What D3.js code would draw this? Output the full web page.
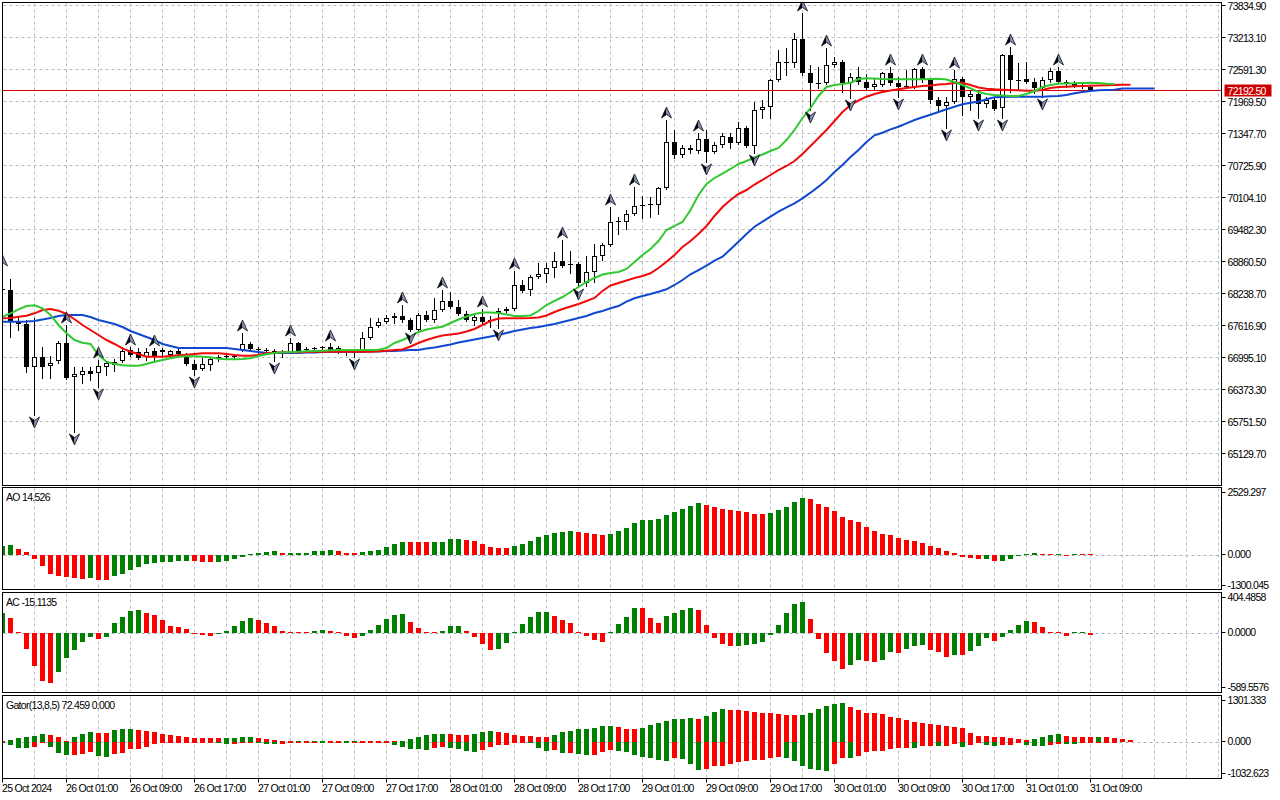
<!DOCTYPE html>
<html><head><meta charset="utf-8">
<script src="https://cdn.jsdelivr.net/npm/d3@7"></script>
<style>
html,body{margin:0;padding:0;background:#fff;}
svg{display:block;}
text{font-family:"Liberation Sans",Arial,sans-serif;font-size:10.5px;letter-spacing:-0.7px;fill:#000;}
</style></head><body>
<svg id="c" width="1280" height="800"></svg>
<script>
// ---------- DATA (BTCUSD H1) ----------
const timeLabels = ["25 Oct 2024","26 Oct 01:00","26 Oct 09:00","26 Oct 17:00","27 Oct 01:00","27 Oct 09:00","27 Oct 17:00","28 Oct 01:00","28 Oct 09:00","28 Oct 17:00","29 Oct 01:00","29 Oct 09:00","29 Oct 17:00","30 Oct 01:00","30 Oct 09:00","30 Oct 17:00","31 Oct 01:00","31 Oct 09:00"];
const timeLabelBars = [0,8,16,24,32,40,48,56,64,72,80,88,96,104,112,120,128,136];
const priceTicks = [73834.90,73213.10,72591.30,71969.50,71347.70,70725.90,70104.10,69482.30,68860.50,68238.70,67616.90,66995.10,66373.30,65751.50,65129.70];

const open = [
68320,68300,67678,67639,66803,66998,66823,66920,67270,66609,
66648,66726,66687,66803,66842,66920,67134,67095,66998,67115,
67095,67037,67115,66998,66862,66765,66842,66978,66998,67017,
67134,67251,67153,67134,67115,67095,67095,67270,67134,67153,
67173,67192,67173,67095,67095,67115,67367,67601,67678,67756,
67795,67717,67523,67814,67717,67912,68087,67970,67834,67698,
67776,67698,67853,67892,67931,68398,68300,68553,68611,68728,
68864,68786,68806,68436,68650,68961,69175,69622,69622,69778,
69933,69953,69953,70283,71177,70925,71061,71003,71236,70983,
71119,71275,71158,71450,71100,71800,71858,72383,72713,72713,
73180,72519,72324,72324,72674,72733,72324,72441,72344,72247,
72286,72519,72324,72247,72247,72597,72383,71994,71877,71955,
72402,72052,72111,71916,71994,71839,72869,72383,72402,72344,
72227,72383,72558,72344,72324,72266,72247];
const high = [
68728,68514,67795,67717,67756,67192,67017,67309,67620,66803,
66803,66803,66940,66920,66959,67192,67192,67173,67173,67173,
67173,67134,67153,67076,66940,66978,66998,67037,67076,67056,
67464,67290,67192,67173,67153,67134,67367,67290,67192,67192,
67212,67270,67212,67134,67115,67484,67756,67756,67814,67853,
68009,67756,67853,67892,68145,68300,68262,68106,67892,67853,
67931,67795,67951,67970,68670,68495,68592,68825,68825,69039,
69273,69059,68845,68961,69195,69214,69914,69720,69856,70303,
70128,70108,70303,71605,71411,71119,71119,71352,71411,71177,
71352,71352,71566,71489,71955,71994,72402,72966,73005,73296,
73685,72674,72635,73005,72830,72772,72519,72635,72499,72422,
72538,72635,72441,72577,72616,72635,72402,72052,72052,72577,
72441,72188,72130,72052,72052,72888,73024,72713,72733,72422,
72441,72616,72635,72383,72363,72344,72266];
const low = [
68184,67387,67523,66706,65870,66590,66590,66881,66570,65540,
66492,66551,66415,66648,66726,66901,67017,66959,66940,66940,
66998,66998,67017,66842,66648,66745,66745,66920,66959,66978,
67115,67134,67076,67056,66920,66998,67076,67095,67115,67115,
67115,67115,67076,67037,66998,67095,67348,67581,67659,67659,
67678,67503,67503,67698,67678,67892,67951,67814,67698,67620,
67620,67581,67562,67873,67912,68262,68203,68534,68456,68553,
68747,68631,68359,68378,68456,68884,69156,69389,69486,69758,
69700,69720,69778,70264,70866,70886,70964,70964,70789,70964,
71080,71061,71139,71080,70964,71644,71644,72363,72480,72635,
72480,71800,72227,72305,72635,72149,72033,72305,72188,72208,
72266,72286,72052,72227,72227,72344,71936,71800,71450,71936,
71702,71800,71644,71858,71800,71644,72149,72188,72324,72130,
72052,72344,72324,72247,72247,72227,72169];
const close = [
68300,67678,67639,66803,66998,66803,66881,67270,66590,66667,
66726,66667,66823,66881,66901,67115,67037,66978,67095,67017,
67134,67115,67056,66862,66745,66862,66959,66998,67017,66998,
67251,67153,67134,67115,67095,67056,67270,67115,67153,67173,
67183,67134,67095,67076,67076,67367,67581,67678,67756,67795,
67717,67523,67814,67717,67912,68087,67970,67834,67717,67776,
67678,67717,67892,67931,68398,68281,68553,68611,68728,68864,
68767,68806,68436,68650,68961,69175,69622,69642,69778,69933,
69953,69972,70283,71177,70925,71061,71022,71236,70983,71119,
71294,71158,71450,71100,71800,71858,72383,72733,72733,73180,
72519,72324,72305,72674,72733,72324,72441,72344,72227,72305,
72519,72324,72247,72266,72597,72383,71994,71877,71955,72402,
72052,72111,71916,71994,71819,72869,72383,72363,72344,72227,
72383,72558,72344,72324,72266,72247,72192.5];

const fractalUp = [0,8,12,16,19,30,36,41,50,55,60,64,70,76,79,83,87,100,103,111,115,119,126,132];
const fractalDown = [4,9,12,24,34,44,51,62,72,88,94,101,106,112,118,122,125,130];

// Alligator (13,8,5 / shift 8,5,3), values as drawn at each bar position
const jaw = [
67684,67684,67684,67688,67698,67727,67756,67795,67814,67814,
67814,67776,67717,67678,67639,67581,67503,67445,67387,67328,
67251,67212,67173,67173,67173,67173,67173,67173,67173,67153,
67134,67115,67095,67076,67076,67076,67076,67076,67085,67085,
67095,67095,67095,67095,67095,67095,67105,67105,67115,67115,
67124,67134,67134,67163,67183,67212,67241,67280,67309,67338,
67367,67396,67426,67464,67503,67532,67562,67581,67610,67639,
67678,67717,67756,67795,67853,67892,67945,67989,68073,68139,
68184,68223,68267,68314,68398,68495,68606,68689,68773,68870,
68948,69092,69239,69389,69531,69628,69725,69823,69908,69986,
70083,70192,70309,70439,70594,70730,70886,71022,71177,71308,
71358,71424,71475,71541,71605,71658,71708,71761,71813,71864,
71910,71942,71961,72008,72047,72052,72058,72058,72058,72058,
72058,72066,72072,72091,72124,72150,72169,72183,72190,72195,
72218,72218,72218,72218,72218];
const teeth = [
67750,67756,67781,67801,67847,67912,67931,67898,67834,67731,
67620,67523,67426,67328,67251,67167,67101,67056,67004,67004,
67004,67017,67031,67043,67056,67070,67070,67070,67056,67037,
67024,67024,67037,67070,67081,67089,67089,67089,67095,67101,
67101,67101,67101,67101,67101,67101,67101,67109,67120,67134,
67144,67202,67270,67328,67377,67416,67435,67455,67494,67542,
67620,67698,67746,67750,67750,67750,67756,67766,67805,67873,
67931,67980,68028,68087,68145,68281,68388,68436,68485,68534,
68573,68625,68728,68851,68981,69136,69253,69389,69545,69739,
69914,70050,70167,70244,70351,70439,70536,70633,70711,70808,
70944,71100,71255,71411,71586,71761,71897,71984,72058,72111,
72150,72179,72202,72227,72247,72266,72276,72295,72305,72324,
72330,72286,72237,72214,72202,72194,72188,72183,72175,72175,
72188,72227,72247,72253,72260,72266,72272,72276,72282,72286,
72290,72292];
const lips = [
67781,67847,67925,67989,68003,67945,67814,67620,67459,67328,
67276,67251,67037,66907,66862,66837,66829,66829,66862,66907,
66940,66973,67004,67011,67011,67004,66992,66965,66953,66953,
66959,66973,67017,67050,67076,67089,67095,67101,67109,67115,
67120,67128,67134,67134,67134,67134,67134,67140,67173,67270,
67328,67396,67484,67532,67562,67587,67659,67727,67785,67834,
67863,67863,67853,67824,67795,67795,67805,67892,68009,68087,
68164,68262,68359,68456,68534,68602,68631,68650,68709,68845,
68981,69097,69253,69467,69545,69622,69856,70147,70361,70478,
70565,70653,70750,70808,70876,70934,71003,71061,71216,71411,
71644,71838,72072,72247,72286,72305,72330,72402,72416,72412,
72402,72396,72396,72396,72396,72396,72402,72408,72393,72344,
72286,72221,72150,72111,72091,72081,72072,72072,72111,72169,
72247,72286,72311,72315,72319,72324,72330,72324,72311,72305];

// Awesome Oscillator
const aoPrev = 340;
const ao = [
360,384,260,136,-124,-422,-694,-769,-818,-856,
-893,-880,-936,-942,-794,-694,-570,-459,-335,-273,
-248,-236,-205,-198,-211,-236,-242,-236,-211,-124,
-50,5,74,124,161,99,102,103,104,149,
151,186,149,102,97,112,149,223,335,446,
521,520,518,516,518,527,608,632,595,558,
446,335,300,295,372,446,558,707,781,856,
893,930,893,856,818,781,818,930,1042,1228,
1339,1345,1376,1525,1637,1786,1897,2009,1934,1860,
1786,1748,1674,1637,1562,1559,1600,1711,1860,2046,
2195,2158,1972,1860,1674,1451,1339,1265,1079,930,
818,781,670,595,558,484,372,298,149,74,
-50,-99,-136,-134,-211,-205,-136,-12,12,74,
37,35,37,-5,37,36,14.526];
const aoTicks = [2529.297, 0, -1300.045];
const aoTickText = ["2529.297","0.000","-1300.045"];

// Accelerator Oscillator
const acPrev = 150;
const ac = [
202,152,10,-159,-334,-483,-506,-394,-245,-169,
-89,-40,-60,-36,109,169,228,238,209,189,
139,79,60,40,-10,-17,-30,-7,20,79,
129,159,139,109,79,20,10,9,3,20,
30,29,3,-23,-50,-26,30,89,149,189,
199,119,50,3,2,20,70,71,20,-36,
-109,-169,-159,-96,10,99,169,218,219,179,
139,109,10,-26,-70,-89,2,99,169,258,
257,159,109,179,209,238,258,238,89,-46,
-106,-126,-124,-115,-106,-86,-17,89,209,298,
318,149,-56,-195,-285,-364,-324,-275,-280,-295,
-265,-185,-195,-156,-126,-116,-166,-185,-235,-215,
-220,-175,-126,-46,-76,-36,33,89,129,119,
60,10,3,-26,7,8,-15.1135];
const acTicks = [404.4858, 0, -589.5576];
const acTickText = ["404.4858","0.0000","-589.5576"];

// Gator Oscillator (13,8,5)
const gatorUpPrev = 60;
const gatorUp = [
47,56,112,141,169,225,197,141,20,141,
225,281,253,250,337,365,393,337,309,281,
225,197,169,141,122,112,110,108,112,116,
141,142,112,84,56,35,5,9,8,37,
47,37,10,37,47,37,36,35,34,5,
8,94,150,206,234,236,234,206,205,234,
290,318,290,262,206,178,176,150,148,206,
290,318,375,377,403,459,460,431,375,374,
403,487,543,600,656,658,684,665,768,881,
965,937,935,909,881,853,852,825,796,795,
796,853,965,1049,1106,1134,1021,937,853,852,
825,712,684,628,572,543,515,487,459,431,
403,262,178,176,150,148,122,94,66,94,
150,206,234,178,150,148,146,150,148,122,
80,72.459];
const gatorDownPrev = -20;
const gatorDown = [
-28,-84,-159,-165,-141,-19,-131,-300,-365,-356,
-328,-272,-412,-440,-328,-300,-187,-185,-131,-56,
-10,-8,-6,-4,-3,-2,-2,-10,-50,-45,
-5,-3,-30,-40,-45,-40,-5,-3,-2,-2,
-3,-2,-2,-3,-2,-2,-2,-2,-2,-94,
-150,-206,-210,-215,-178,-150,-160,-187,-243,-272,
-215,-131,-75,-74,-37,-19,-37,-159,-243,-225,
-300,-298,-328,-375,-356,-272,-215,-243,-272,-356,
-440,-442,-525,-553,-468,-497,-628,-806,-778,-693,
-690,-637,-581,-553,-525,-524,-468,-440,-468,-553,
-693,-778,-806,-834,-637,-468,-470,-412,-272,-244,
-243,-187,-159,-158,-160,-103,-102,-104,-103,-47,
-131,-75,-37,-75,-103,-75,-74,-37,-75,-103,
-104,-75,-40,-47,-48,-10,-5,-3,-2,-1];
const gatorTicks = [1301.333, 0, -1032.623];
const gatorTickText = ["1301.333","0.000","-1032.623"];

// ---------- LAYOUT ----------
const svg = d3.select("#c");
const L = 2.5, R = 1221.5;
const P = {
  main:  {top: 2.5,   bottom: 485.5},
  ao:    {top: 487.5, bottom: 589.5},
  ac:    {top: 592.5, bottom: 692.5},
  gator: {top: 695.5, bottom: 778.5}
};
const GREEN = "#008000", RED = "#ff0000";
const GRID = "#bcbcbc";

const x = d3.scaleLinear().domain([0, 1]).range([2.5, 10.5]);
const yMain = d3.scaleLinear().domain([73834.9, 65129.7]).range([5.3, 453.1]);
const yAO = d3.scaleLinear().domain([2529.297, -1300.045]).range([489, 589.5]);
const yAC = d3.scaleLinear().domain([404.4858, -589.5576]).range([593.5, 691.5]);
const yG = d3.scaleLinear().domain([1301.333, -1032.623]).range([697, 778]);

svg.append("rect").attr("width",1280).attr("height",800).attr("fill","#fff");

const defs = svg.append("defs");
Object.entries(P).forEach(([k,p]) => {
  defs.append("clipPath").attr("id","clip-"+k).append("rect")
    .attr("x", L).attr("y", p.top).attr("width", R-L).attr("height", p.bottom-p.top);
});

const gridBars = d3.range(4, 153, 4).filter(i => x(i) < R);

function vgrid(key) {
  const p = P[key];
  svg.append("g").selectAll("line").data(gridBars).join("line")
    .attr("x1", i => x(i)).attr("x2", i => x(i))
    .attr("y1", p.top+1).attr("y2", p.bottom-1)
    .attr("stroke", GRID).attr("stroke-width",1).attr("stroke-dasharray","3,3");
}

// ---------- MAIN PANEL ----------
vgrid("main");
svg.append("g").selectAll("line").data(priceTicks).join("line")
  .attr("x1", L+1).attr("x2", R-1)
  .attr("y1", d => Math.round(yMain(d))+0.5).attr("y2", d => Math.round(yMain(d))+0.5)
  .attr("stroke", GRID).attr("stroke-width",1).attr("stroke-dasharray","3,3");

const gMain = svg.append("g").attr("clip-path","url(#clip-main)");

// candles
const candles = open.map((o,i) => ({i, o, h: high[i], l: low[i], c: close[i]}));
const cg = gMain.append("g");
candles.forEach(d => {
  const cx = x(d.i);
  const yh = Math.round(yMain(d.h)), yl = Math.round(yMain(d.l));
  const yo = Math.round(yMain(d.o)), yc = Math.round(yMain(d.c));
  cg.append("line").attr("x1",cx).attr("x2",cx).attr("y1",yh).attr("y2",yl+1)
    .attr("stroke","#000").attr("stroke-width",1);
  const top = Math.min(yo,yc), bot = Math.max(yo,yc);
  if (bot - top < 2) {
    cg.append("line").attr("x1",cx-2.5).attr("x2",cx+2.5).attr("y1",top+0.5).attr("y2",top+0.5)
      .attr("stroke","#000").attr("stroke-width",1);
  } else {
    cg.append("rect").attr("x",cx-2).attr("y",top+0.5).attr("width",4).attr("height",bot-top-1)
      .attr("fill", d.c >= d.o ? "#fff" : "#000").attr("stroke","#000").attr("stroke-width",1);
  }
});

// current price line
const yPrice = Math.round(yMain(close[close.length-1]))+0.5;
gMain.append("line").attr("x1",L).attr("x2",R).attr("y1",yPrice).attr("y2",yPrice)
  .attr("stroke","#e00000").attr("stroke-width",1);

// alligator
const line = d3.line().x((d,i) => x(i)).y(d => yMain(d));
gMain.append("path").datum(jaw).attr("d",line).attr("fill","none").attr("stroke","#1048cf").attr("stroke-width",2);
gMain.append("path").datum(teeth).attr("d",line).attr("fill","none").attr("stroke","#f00a0a").attr("stroke-width",2);
gMain.append("path").datum(lips).attr("d",line).attr("fill","none").attr("stroke","#32c832").attr("stroke-width",2);

// fractals
const fg = gMain.append("g");
fractalUp.forEach(i => {
  const cx = x(i), by = yMain(high[i]) - 2;
  const g = fg.append("g").attr("transform",`translate(${cx},${by})`);
  g.append("path").attr("d","M0,-11 L-5,0 L0,-3.5 Z").attr("fill","#000");
  g.append("path").attr("d","M0,-11 L0,-3.5 L5,0 Z").attr("fill","#8090b8");
  g.append("path").attr("d","M0,-11 L-5,0 L0,-3.5 L5,0 Z").attr("fill","none").attr("stroke","#101020").attr("stroke-width",0.8);
});
fractalDown.forEach(i => {
  const cx = x(i), ty = yMain(low[i]) + 2;
  const g = fg.append("g").attr("transform",`translate(${cx},${ty})`);
  g.append("path").attr("d","M0,11 L-5,0 L0,3.5 Z").attr("fill","#000");
  g.append("path").attr("d","M0,11 L0,3.5 L5,0 Z").attr("fill","#8090b8");
  g.append("path").attr("d","M0,11 L-5,0 L0,3.5 L5,0 Z").attr("fill","none").attr("stroke","#101020").attr("stroke-width",0.8);
});

// price axis
const ax = svg.append("g");
priceTicks.forEach(t => {
  const yy = Math.round(yMain(t))+0.5;
  ax.append("line").attr("x1",R).attr("x2",R+4).attr("y1",yy).attr("y2",yy).attr("stroke","#000");
  ax.append("text").attr("x",R+6).attr("y",yy+4).text(t.toFixed(2));
});
ax.append("rect").attr("x",R+3).attr("y",yPrice-6).attr("width",47).attr("height",12).attr("fill","#cc0000");
ax.append("text").attr("x",R+6).attr("y",yPrice+4).style("fill","#fff").text(close[close.length-1].toFixed(2));

// ---------- SUB PANELS ----------
function subPanel(key, ys, ticks, tickText) {
  const p = P[key];
  vgrid(key);
  const z = Math.round(ys(0))+0.5;
  svg.append("line").attr("x1",L+1).attr("x2",R-1).attr("y1",z).attr("y2",z)
    .attr("stroke","#a8b0bc").attr("stroke-width",1).attr("stroke-dasharray","3,3");
  const offs = [3, -1, -5];
  ticks.forEach((t,k) => {
    const yy = ys(t) + offs[k];
    svg.append("line").attr("x1",R).attr("x2",R+4).attr("y1",Math.round(yy)+0.5).attr("y2",Math.round(yy)+0.5).attr("stroke","#000");
    svg.append("text").attr("x",R+6).attr("y",yy+4).text(tickText[k]);
  });
  return svg.append("g").attr("clip-path",`url(#clip-${key})`);
}

function bars(g, data, ys, prev, absCompare) {
  const y0 = Math.round(ys(0));
  data.forEach((v,i) => {
    const pv = i === 0 ? prev : data[i-1];
    const up = absCompare ? Math.abs(v) > Math.abs(pv) : v > pv;
    let y1 = Math.round(ys(v));
    if (y1 === y0) y1 = y0 + (v >= 0 ? -1 : 1);
    g.append("rect").attr("x", x(i)-2.5).attr("width",5)
      .attr("y", Math.min(y0,y1)).attr("height", Math.abs(y1-y0))
      .attr("fill", up ? GREEN : RED);
  });
}

const gAO = subPanel("ao", yAO, aoTicks, aoTickText);
bars(gAO, ao, yAO, aoPrev, false);
const gAC = subPanel("ac", yAC, acTicks, acTickText);
bars(gAC, ac, yAC, acPrev, false);
const gG = subPanel("gator", yG, gatorTicks, gatorTickText);
bars(gG, gatorUp, yG, gatorUpPrev, true);
bars(gG, gatorDown, yG, gatorDownPrev, true);

// headers
svg.append("text").attr("x",6).attr("y",501).text("AO " + ao[ao.length-1]);
svg.append("text").attr("x",6).attr("y",606).text("AC " + ac[ac.length-1]);
svg.append("text").attr("x",6).attr("y",709)
  .text("Gator(13,8,5) " + gatorUp[gatorUp.length-1].toFixed(3) + " " + (0).toFixed(3));

// panel borders
Object.values(P).forEach(p => {
  svg.append("rect").attr("x",L).attr("y",p.top).attr("width",R-L).attr("height",p.bottom-p.top)
    .attr("fill","none").attr("stroke","#000").attr("stroke-width",1);
});

// time axis
timeLabels.forEach((t,k) => {
  const cx = x(timeLabelBars[k]);
  svg.append("line").attr("x1",cx).attr("x2",cx).attr("y1",P.gator.bottom).attr("y2",P.gator.bottom+4).attr("stroke","#000");
  svg.append("text").attr("x",cx-0.5).attr("y",792).text(t);
});
</script>
</body></html>
